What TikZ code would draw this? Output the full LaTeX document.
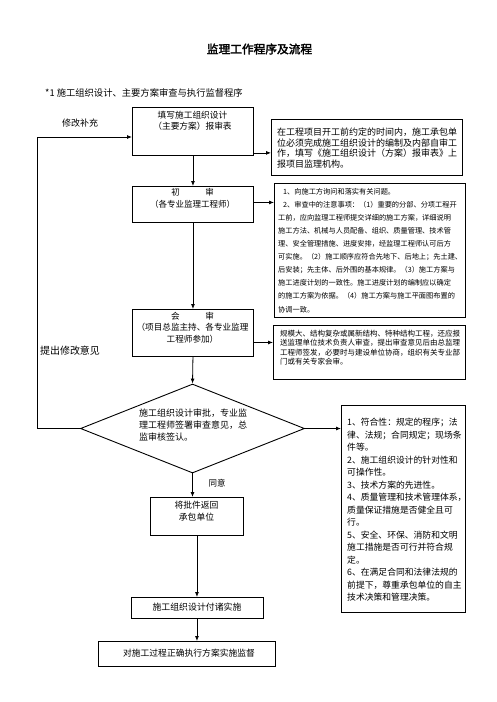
\documentclass[tikz,border=0pt]{standalone}
\usepackage{fontspec}
\newfontfamily\cjk[AutoFakeBold=2.5]{Noto Sans CJK SC}
\usetikzlibrary{arrows.meta,shapes.geometric}
\newcommand\setfs[2]{\fontsize{#1pt}{#2pt}\selectfont}
\tikzset{
  box/.style={draw=black, line width=0.9pt, inner sep=0pt, anchor=north west},
  txt/.style={inner sep=0pt, anchor=north west, align=left},
  ctxt/.style={inner sep=0pt, anchor=north, align=center},
  lbl/.style={inner sep=0pt, anchor=center},
  arr/.style={line width=0.8pt, -{Latex[length=5pt,width=4pt]}},
  ln/.style={line width=0.8pt},
}
\begin{document}
\begin{tikzpicture}[x=1pt,y=-1pt,font=\cjk]
\useasboundingbox (0,0) rectangle (496,702);
\fill[white] (0,0) rectangle (496,702);

% title and subtitle
\node[lbl, font=\cjk\bfseries\setfs{11.7}{14}] (title) at (259.5,49) {监理工作程序及流程};
\node[inner sep=0pt, anchor=west, font=\cjk\setfs{9.3}{11}] (sub) at (45,93) {*1 施工组织设计、主要方案审查与执行监督程序};

% boxes
\node[box, minimum width=121pt, minimum height=48pt] (b1) at (132,107) {};
\node[box, minimum width=191pt, minimum height=56pt] (b2) at (271,119) {};
\node[box, minimum width=121pt, minimum height=36pt] (b3) at (132,186) {};
\node[box, minimum width=191pt, minimum height=134pt] (b4) at (274,183) {};
\node[box, minimum width=121pt, minimum height=47pt] (b5) at (132,309) {};
\node[box, minimum width=192pt, minimum height=54pt] (b6) at (273,325) {};
\node[diamond, draw=black, line width=0.9pt, inner sep=0pt, minimum width=224pt, minimum height=89pt] (d) at (192.5,428.5) {};
\node[box, minimum width=124pt, minimum height=207pt] (b7) at (341,405) {};
\node[box, minimum width=93pt, minimum height=38pt] (b8) at (150,497) {};
\node[box, minimum width=132pt, minimum height=21pt] (b9) at (131,597) {};
\node[box, minimum width=177pt, minimum height=25pt] (b10) at (98,641) {};

% texts
\node[ctxt, font=\cjk\setfs{8.7}{10.5}] (t1) at (192.5,111.1) {填写施工组织设计\\（主要方案）报审表};
\node[txt, font=\cjk\setfs{9}{10.5}] (t2) at (277,128) {在工程项目开工前约定的时间内，施工承包单\\位必须完成施工组织设计的编制及内部自审工\\作，填写《施工组织设计（方案）报审表》上\\报项目监理机构。};
\node[ctxt, font=\cjk\setfs{8.5}{12}] (t3) at (192.5,188.2) {初　　　审\\（各专业监理工程师）};
\node[txt, font=\cjk\setfs{7.2}{13.1}] (t4) at (278,187.8) {\hspace*{5pt}1、向施工方询问和落实有关问题。\\\hspace*{5pt}2、审查中的注意事项：（1）重要的分部、分项工程开\\工前，应向监理工程师提交详细的施工方案，详细说明\\施工方法、机械与人员配备、组织、质量管理、技术管\\理、安全管理措施、进度安排，经监理工程师认可后方\\可实施。（2）施工顺序应符合先地下、后地上；先土建、\\后安装；先主体、后外围的基本规律。（3）施工方案与\\施工进度计划的一致性。施工进度计划的编制应以确定\\的施工方案为依据。（4）施工方案与施工平面图布置的\\协调一致。};
\node[ctxt, font=\cjk\setfs{8.6}{11.3}] (t5) at (192.5,312.1) {会　　　审\\（项目总监主持、各专业监理\\工程师参加）};
\node[txt, font=\cjk\setfs{7.5}{9.6}] (t6) at (280,329.6) {规模大、结构复杂或属新结构、特种结构工程，还应报\\送监理单位技术负责人审查，提出审查意见后由总监理\\工程师签发，必要时与建设单位协商，组织有关专业部\\门或有关专家会审。};
\node[txt, font=\cjk\setfs{9}{11.7}] (td) at (139,409) {施工组织设计审批，专业监\\理工程师签署审查意见，总\\监审核签认。};
\node[txt, font=\cjk\setfs{8.8}{12.5}] (t7) at (347,418) {1、符合性：规定的程序；法\\律、法规；合同规定；现场条\\件等。\\2、施工组织设计的针对性和\\可操作性。\\3、技术方案的先进性。\\4、质量管理和技术管理体系，\\质量保证措施是否健全且可\\行。\\5、安全、环保、消防和文明\\施工措施是否可行并符合规\\定。\\6、在满足合同和法律法规的\\前提下，尊重承包单位的自主\\技术决策和管理决策。};
\node[ctxt, font=\cjk\setfs{8.8}{12}] (t8) at (196.5,501) {将批件返回\\承包单位};
\node[lbl, font=\cjk\setfs{8.9}{11}] (t9) at (197,607.5) {施工组织设计付诸实施};
\node[lbl, font=\cjk\setfs{8.8}{11}] (t10) at (189,653) {对施工过程正确执行方案实施监督};

% side labels
\node[lbl, font=\cjk\setfs{9}{11}] (l1) at (80,123) {修改补充};
\node[lbl, font=\cjk\setfs{10}{12}] (l2) at (70,351) {提出修改意见};
\node[lbl, font=\cjk\setfs{8.5}{10}] (l3) at (217,483) {同意};

% connectors
\draw[arr] ([yshift=3pt]b1.south east) -- ([yshift=3pt]b1.south east -| b2.west);
\draw[arr] (b1.south) -- (b3.north);
\draw[arr] ([yshift=2pt]b3.east) -- ([yshift=2pt]b3.east -| b4.west);
\draw[arr] (b3.south) -- (b5.north);
\draw[arr] ([yshift=-9.5pt]b5.east) -- ([yshift=-9.5pt]b5.east -| b6.west);
\draw[arr] (b5.south) -- (d.north);
\draw[arr] (d.east) -- (d.east -| b7.west);
\draw[arr] (d.south) -- (d.south |- b8.north);
\draw[arr] (b8.south) -- (b8.south |- b9.north);
\draw[arr] (b9.south -| b8.south) -- (b8.south |- b10.north);
\coordinate (fbL) at (37,428.5);
\coordinate (fbT) at (37,137);
\draw[arr] (d.west) -- (fbL) -- (fbT) -- (fbT -| b1.west);
\end{tikzpicture}
\end{document}
